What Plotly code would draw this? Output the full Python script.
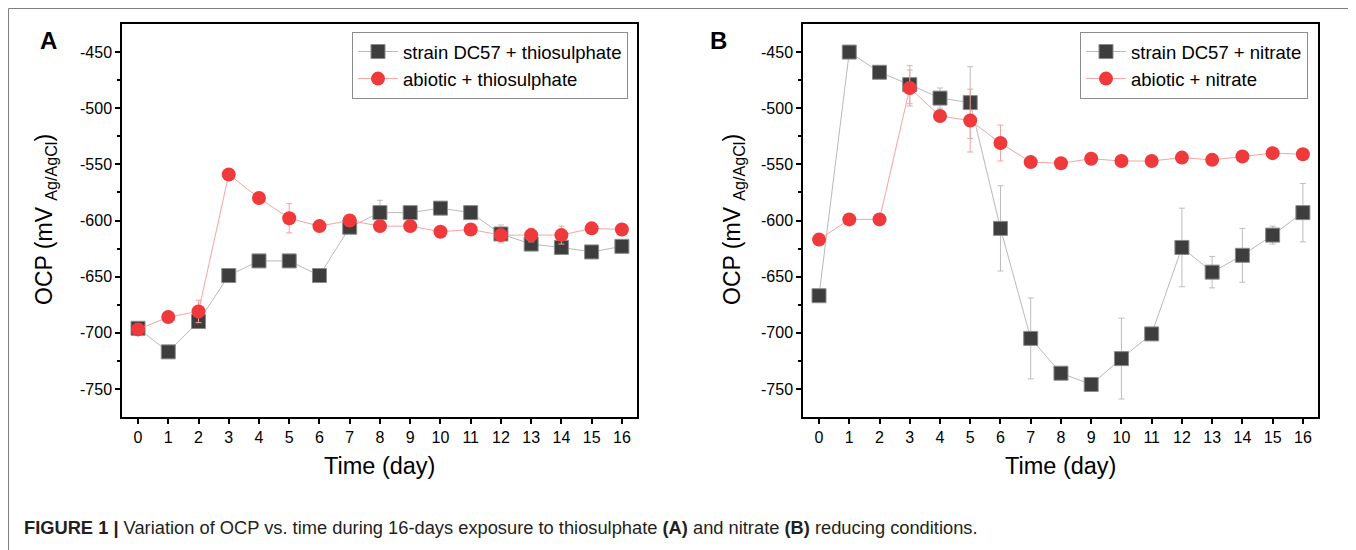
import plotly.graph_objects as go

W, H = 1356, 550
OFF = 8  # page body margin in the browser


def px(x):
    return (x - OFF) / W


def py(y):
    return 1 - (y - OFF) / H


days = list(range(17))
x_ticktext = [str(d) for d in days]

y_tickvals = [-750, -700, -650, -600, -550, -500, -450]
y_ticktext = ["-750", "-700", "-650", "-600", "-550", "-500", "-450"]
y_minorvals = [-725, -675, -625, -575, -525, -475]

# Panel A: thiosulphate
a_strain = [-696, -717, -690, -649, -636, -636, -649, -606, -593, -593, -589, -593, -612, -621, -624, -628, -623]
a_strain_err = [2, 2, 3, 2, 2, 2, 2, 3, 11, 2, 2, 2, 8, 3, 3, 2, 2]
a_abiotic = [-697, -686, -681, -559, -580, -598, -605, -600, -605, -605, -610, -608, -613, -613, -613, -607, -608]
a_abiotic_err = [3, 2, 10, 2, 2, 13, 2, 2, 2, 4, 2, 2, 5, 6, 8, 2, 2]

# Panel B: nitrate
b_strain = [-667, -450, -468, -479, -491, -495, -607, -705, -736, -746, -723, -701, -624, -646, -631, -613, -593]
b_strain_err = [3, 2, 3, 17, 9, 32, 38, 36, 3, 3, 36, 4, 35, 14, 24, 8, 26]
b_abiotic = [-617, -599, -599, -482, -507, -511, -531, -548, -549, -545, -547, -547, -544, -546, -543, -540, -541]
b_abiotic_err = [2, 2, 2, 16, 3, 28, 16, 2, 2, 5, 2, 4, 4, 4, 2, 2, 2]

names_a = ["strain DC57 + thiosulphate", "abiotic + thiosulphate"]
names_b = ["strain DC57 + nitrate", "abiotic + nitrate"]

GRAY_M = "#3d3d3d"
GRAY_L = "#b9b9b9"
RED_M = "#f0393b"
RED_L = "#f6a3a3"

fig = go.Figure()


def add_pair(strain, s_err, abiotic, ab_err, names, xa, ya, leg):
    fig.add_trace(go.Scatter(
        x=days, y=strain, name=names[0], mode="lines+markers",
        xaxis=xa, yaxis=ya, legend=leg,
        line=dict(color=GRAY_L, width=1),
        marker=dict(symbol="square", size=14, color=GRAY_M, line=dict(color="#8a8a8a", width=1)),
        error_y=dict(type="data", array=s_err, visible=True, color="#bdbdbd", thickness=1, width=3),
    ))
    fig.add_trace(go.Scatter(
        x=days, y=abiotic, name=names[1], mode="lines+markers",
        xaxis=xa, yaxis=ya, legend=leg,
        line=dict(color=RED_L, width=1),
        marker=dict(symbol="circle", size=14, color=RED_M, line=dict(width=0)),
        error_y=dict(type="data", array=ab_err, visible=True, color="#f5a0a0", thickness=1, width=3),
    ))


add_pair(a_strain, a_strain_err, a_abiotic, a_abiotic_err, names_a, "x", "y", "legend")
add_pair(b_strain, b_strain_err, b_abiotic, b_abiotic_err, names_b, "x2", "y2", "legend2")

axis_common = dict(
    showline=True, linecolor="black", linewidth=1.5, mirror=True,
    showgrid=False, zeroline=False, ticks="outside", ticklen=5, tickwidth=1.5,
    tickcolor="black", tickfont=dict(size=16, color="black"),
)

xa_dom = [px(122), px(637)]
xb_dom = [px(803), px(1318)]
y_dom = [py(417), py(24)]

minor_y = dict(tickmode="array", tickvals=y_minorvals, ticks="outside", ticklen=3, tickwidth=1.5, tickcolor="black")

legend_common = dict(xanchor="left", yanchor="top", xref="paper", yref="paper",
                     bordercolor="#8c8c8c", borderwidth=1, bgcolor="white",
                     font=dict(size=18.5), tracegroupgap=0, itemwidth=40)

fig.update_layout(
    width=W, height=H,
    margin=dict(l=0, r=0, t=0, b=0),
    paper_bgcolor="white", plot_bgcolor="white",
    font=dict(family="Arial, 'Liberation Sans', sans-serif", color="black"),
    xaxis=dict(domain=xa_dom, anchor="y", range=[-0.53, 16.5], tickvals=days, ticktext=x_ticktext, **axis_common),
    yaxis=dict(domain=y_dom, anchor="x", range=[-775, -425], tickvals=y_tickvals, ticktext=y_ticktext,
               minor=minor_y, **axis_common),
    xaxis2=dict(domain=xb_dom, anchor="y2", range=[-0.53, 16.5], tickvals=days, ticktext=x_ticktext, **axis_common),
    yaxis2=dict(domain=y_dom, anchor="x2", range=[-775, -425], tickvals=y_tickvals, ticktext=y_ticktext,
                minor=minor_y, **axis_common),
    legend=dict(x=px(352), y=py(32), **legend_common),
    legend2=dict(x=px(1080), y=py(32), **legend_common),
    showlegend=True,
)

ann = []
for lbl, lx in (("A", 48), ("B", 718)):
    ann.append(dict(text=f"<b>{lbl}</b>", x=px(lx), y=py(40), xref="paper", yref="paper",
                    showarrow=False, font=dict(size=24), xanchor="center", yanchor="middle"))
for cx in (45, 733):
    ann.append(dict(text="OCP (mV <sub>Ag/AgCl</sub>)", x=px(cx), y=py(220), xref="paper", yref="paper",
                    showarrow=False, textangle=-90, font=dict(size=23), xanchor="center", yanchor="middle"))
for cx in ((122 + 637) / 2, (803 + 1318) / 2):
    ann.append(dict(text="Time (day)", x=px(cx), y=py(466), xref="paper", yref="paper",
                    showarrow=False, font=dict(size=23.5), xanchor="center", yanchor="middle"))
ann.append(dict(
    text="<b>FIGURE 1 |</b> Variation of OCP vs. time during 16-days exposure to thiosulphate <b>(A)</b> and nitrate <b>(B)</b> reducing conditions.",
    x=px(22), y=py(527), xref="paper", yref="paper", showarrow=False,
    font=dict(size=18.3, color="#231f20"), xanchor="left", yanchor="middle"))
fig.update_layout(annotations=ann)

fig.add_shape(type="rect", xref="paper", yref="paper", x0=0.5 / W, x1=px(1350), y0=-0.05, y1=1 - 0.5 / H,
              line=dict(color="#7f7f7f", width=1), fillcolor="rgba(0,0,0,0)", layer="below")

fig.write_html("out.html")
